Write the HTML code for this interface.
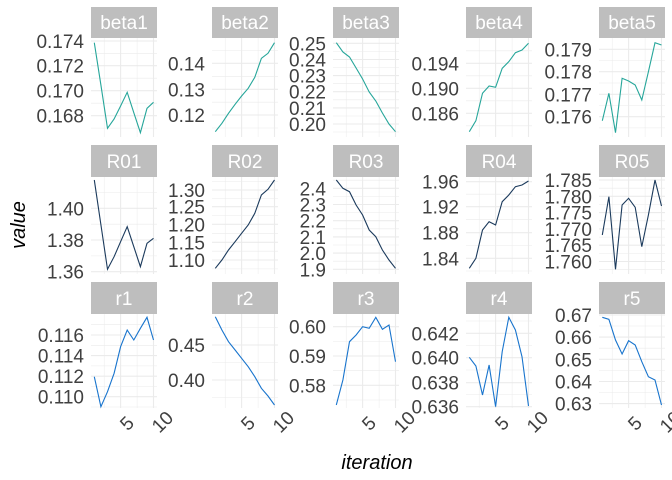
<!DOCTYPE html>
<html><head><meta charset="utf-8"><style>
html,body{margin:0;padding:0;background:#fff}
svg{display:block;font-family:"Liberation Sans",sans-serif}
.mj{stroke:#EBEBEB;stroke-width:1.1}
.mn{stroke:#EBEBEB;stroke-width:0.55}
.yl{font-size:19px;fill:#404040;text-anchor:end}
.st{font-size:19px;fill:#fff;text-anchor:middle}
.xl{font-size:19px;fill:#404040;text-anchor:middle}
polyline{fill:none;stroke-width:1.1}
.b{stroke:#26A69A}.R{stroke:#1B3A5C}.r{stroke:#1874CD}
</style></head><body>
<svg width="672" height="480" viewBox="0 0 672 480">
<defs>
<g id="v1"><line class="mn" x1="13.2" x2="13.2" y1="38" y2="137"/><line class="mj" x1="29.6" x2="29.6" y1="38" y2="137"/><line class="mn" x1="46.1" x2="46.1" y1="38" y2="137"/><line class="mj" x1="62.5" x2="62.5" y1="38" y2="137"/></g>
<g id="v2"><line class="mn" x1="13.2" x2="13.2" y1="177" y2="274"/><line class="mj" x1="29.6" x2="29.6" y1="177" y2="274"/><line class="mn" x1="46.1" x2="46.1" y1="177" y2="274"/><line class="mj" x1="62.5" x2="62.5" y1="177" y2="274"/></g>
<g id="v3"><line class="mn" x1="13.2" x2="13.2" y1="314" y2="408"/><line class="mj" x1="29.6" x2="29.6" y1="314" y2="408"/><line class="mn" x1="46.1" x2="46.1" y1="314" y2="408"/><line class="mj" x1="62.5" x2="62.5" y1="314" y2="408"/></g>
</defs>

<!-- ROW 1 -->
<g transform="translate(91,0)">
<rect x="0" y="7" width="66" height="31" fill="#BEBEBE"/><text class="st" x="33" y="29">beta1</text>
<use href="#v1"/>
<g class="mj"><line x1="0" x2="66" y1="41" y2="41"/><line x1="0" x2="66" y1="65.7" y2="65.7"/><line x1="0" x2="66" y1="90.7" y2="90.7"/><line x1="0" x2="66" y1="115.7" y2="115.7"/></g>
<g class="mn"><line x1="0" x2="66" y1="53.3" y2="53.3"/><line x1="0" x2="66" y1="78.2" y2="78.2"/><line x1="0" x2="66" y1="103.2" y2="103.2"/><line x1="0" x2="66" y1="128.1" y2="128.1"/></g>
<text class="yl" x="-7" y="48">0.174</text><text class="yl" x="-7" y="72.7">0.172</text><text class="yl" x="-7" y="97.7">0.170</text><text class="yl" x="-7" y="122.7">0.168</text>
<polyline class="b" points="3.3,42.7 9.9,85 16.5,128.3 23.1,119 29.6,106 36.2,92.3 42.8,112.7 49.4,132.7 56,108.3 62.5,102.3"/>
</g>
<g transform="translate(212,0)">
<rect x="0" y="7" width="66" height="31" fill="#BEBEBE"/><text class="st" x="33" y="29">beta2</text>
<use href="#v1"/>
<g class="mj"><line x1="0" x2="66" y1="63.3" y2="63.3"/><line x1="0" x2="66" y1="89.3" y2="89.3"/><line x1="0" x2="66" y1="115" y2="115"/></g>
<g class="mn"><line x1="0" x2="66" y1="50.4" y2="50.4"/><line x1="0" x2="66" y1="76.3" y2="76.3"/><line x1="0" x2="66" y1="102.2" y2="102.2"/><line x1="0" x2="66" y1="128" y2="128"/></g>
<text class="yl" x="-7" y="70.3">0.14</text><text class="yl" x="-7" y="96.3">0.13</text><text class="yl" x="-7" y="122">0.12</text>
<polyline class="b" points="3.3,131.7 9.9,123.3 16.5,113.3 23.1,104.3 29.6,96 36.2,88.3 42.8,77.3 49.4,58.3 56,53.3 62.5,42.7"/>
</g>
<g transform="translate(333,0)">
<rect x="0" y="7" width="66" height="31" fill="#BEBEBE"/><text class="st" x="33" y="29">beta3</text>
<use href="#v1"/>
<g class="mj"><line x1="0" x2="66" y1="43.3" y2="43.3"/><line x1="0" x2="66" y1="59.5" y2="59.5"/><line x1="0" x2="66" y1="75.6" y2="75.6"/><line x1="0" x2="66" y1="91.7" y2="91.7"/><line x1="0" x2="66" y1="107.9" y2="107.9"/><line x1="0" x2="66" y1="124" y2="124"/></g>
<g class="mn"><line x1="0" x2="66" y1="51.4" y2="51.4"/><line x1="0" x2="66" y1="67.5" y2="67.5"/><line x1="0" x2="66" y1="83.7" y2="83.7"/><line x1="0" x2="66" y1="99.8" y2="99.8"/><line x1="0" x2="66" y1="116" y2="116"/><line x1="0" x2="66" y1="132" y2="132"/></g>
<text class="yl" x="-7" y="50.3">0.25</text><text class="yl" x="-7" y="66.5">0.24</text><text class="yl" x="-7" y="82.6">0.23</text><text class="yl" x="-7" y="98.7">0.22</text><text class="yl" x="-7" y="114.9">0.21</text><text class="yl" x="-7" y="131">0.20</text>
<polyline class="b" points="3.3,42.7 9.9,52 16.5,57 23.1,68 29.6,79 36.2,92 42.8,101 49.4,113 56,124 62.5,131.7"/>
</g>
<g transform="translate(466,0)">
<rect x="0" y="7" width="66" height="31" fill="#BEBEBE"/><text class="st" x="33" y="29">beta4</text>
<use href="#v1"/>
<g class="mj"><line x1="0" x2="66" y1="63.3" y2="63.3"/><line x1="0" x2="66" y1="88.3" y2="88.3"/><line x1="0" x2="66" y1="113.3" y2="113.3"/></g>
<g class="mn"><line x1="0" x2="66" y1="50.8" y2="50.8"/><line x1="0" x2="66" y1="75.8" y2="75.8"/><line x1="0" x2="66" y1="100.8" y2="100.8"/><line x1="0" x2="66" y1="125.8" y2="125.8"/></g>
<text class="yl" x="-7" y="70.3">0.194</text><text class="yl" x="-7" y="95.3">0.190</text><text class="yl" x="-7" y="120.3">0.186</text>
<polyline class="b" points="3.3,131.7 9.9,120.7 16.5,93.3 23.1,86 29.6,87.3 36.2,68.3 42.8,61.7 49.4,52.7 56,50 62.5,43.3"/>
</g>
<g transform="translate(599,0)">
<rect x="0" y="7" width="66" height="31" fill="#BEBEBE"/><text class="st" x="33" y="29">beta5</text>
<use href="#v1"/>
<g class="mj"><line x1="0" x2="66" y1="49.3" y2="49.3"/><line x1="0" x2="66" y1="71.7" y2="71.7"/><line x1="0" x2="66" y1="94.3" y2="94.3"/><line x1="0" x2="66" y1="116.7" y2="116.7"/></g>
<g class="mn"><line x1="0" x2="66" y1="60.5" y2="60.5"/><line x1="0" x2="66" y1="83" y2="83"/><line x1="0" x2="66" y1="105.5" y2="105.5"/><line x1="0" x2="66" y1="127.9" y2="127.9"/></g>
<text class="yl" x="-7" y="56.3">0.179</text><text class="yl" x="-7" y="78.7">0.178</text><text class="yl" x="-7" y="101.3">0.177</text><text class="yl" x="-7" y="123.7">0.176</text>
<polyline class="b" points="3.3,120.7 9.9,93.3 16.5,132.7 23.1,78.3 29.6,81 36.2,85 42.8,100 49.4,71.7 56,42.7 62.5,45"/>
</g>

<!-- ROW 2 -->
<g transform="translate(91,0)">
<rect x="0" y="145" width="66" height="32" fill="#BEBEBE"/><text class="st" x="33" y="168">R01</text>
<use href="#v2"/>
<g class="mj"><line x1="0" x2="66" y1="208.3" y2="208.3"/><line x1="0" x2="66" y1="240" y2="240"/><line x1="0" x2="66" y1="271.7" y2="271.7"/></g>
<g class="mn"><line x1="0" x2="66" y1="192.5" y2="192.5"/><line x1="0" x2="66" y1="224.2" y2="224.2"/><line x1="0" x2="66" y1="255.9" y2="255.9"/></g>
<text class="yl" x="-7" y="215.3">1.40</text><text class="yl" x="-7" y="247">1.38</text><text class="yl" x="-7" y="278.7">1.36</text>
<polyline class="R" points="3.3,180 9.9,224.7 16.5,269.3 23.1,256.7 29.6,241.7 36.2,226.7 42.8,246.7 49.4,266.7 56,243.3 62.5,238.3"/>
</g>
<g transform="translate(212,0)">
<rect x="0" y="145" width="66" height="32" fill="#BEBEBE"/><text class="st" x="33" y="168">R02</text>
<use href="#v2"/>
<g class="mj"><line x1="0" x2="66" y1="190" y2="190"/><line x1="0" x2="66" y1="206.7" y2="206.7"/><line x1="0" x2="66" y1="224.3" y2="224.3"/><line x1="0" x2="66" y1="242.3" y2="242.3"/><line x1="0" x2="66" y1="260" y2="260"/></g>
<g class="mn"><line x1="0" x2="66" y1="181.6" y2="181.6"/><line x1="0" x2="66" y1="198.4" y2="198.4"/><line x1="0" x2="66" y1="215.5" y2="215.5"/><line x1="0" x2="66" y1="233.3" y2="233.3"/><line x1="0" x2="66" y1="251.2" y2="251.2"/><line x1="0" x2="66" y1="268.9" y2="268.9"/></g>
<text class="yl" x="-7" y="197">1.30</text><text class="yl" x="-7" y="213.7">1.25</text><text class="yl" x="-7" y="231.3">1.20</text><text class="yl" x="-7" y="249.3">1.15</text><text class="yl" x="-7" y="267">1.10</text>
<polyline class="R" points="3.3,268.3 9.9,260 16.5,250 23.1,241.7 29.6,233.3 36.2,225 42.8,213.3 49.4,195 56,189.3 62.5,180"/>
</g>
<g transform="translate(333,0)">
<rect x="0" y="145" width="66" height="32" fill="#BEBEBE"/><text class="st" x="33" y="168">R03</text>
<use href="#v2"/>
<g class="mj"><line x1="0" x2="66" y1="188.3" y2="188.3"/><line x1="0" x2="66" y1="204.5" y2="204.5"/><line x1="0" x2="66" y1="220.7" y2="220.7"/><line x1="0" x2="66" y1="236.9" y2="236.9"/><line x1="0" x2="66" y1="253.1" y2="253.1"/><line x1="0" x2="66" y1="269.3" y2="269.3"/></g>
<g class="mn"><line x1="0" x2="66" y1="180.2" y2="180.2"/><line x1="0" x2="66" y1="196.4" y2="196.4"/><line x1="0" x2="66" y1="212.6" y2="212.6"/><line x1="0" x2="66" y1="228.8" y2="228.8"/><line x1="0" x2="66" y1="245" y2="245"/><line x1="0" x2="66" y1="261.2" y2="261.2"/></g>
<text class="yl" x="-7" y="195.3">2.4</text><text class="yl" x="-7" y="211.5">2.3</text><text class="yl" x="-7" y="227.7">2.2</text><text class="yl" x="-7" y="243.9">2.1</text><text class="yl" x="-7" y="260.1">2.0</text><text class="yl" x="-7" y="276.3">1.9</text>
<polyline class="R" points="3.3,180 9.9,188.3 16.5,191.7 23.1,205 29.6,215 36.2,230 42.8,236.7 49.4,250 56,260 62.5,268.3"/>
</g>
<g transform="translate(466,0)">
<rect x="0" y="145" width="66" height="32" fill="#BEBEBE"/><text class="st" x="33" y="168">R04</text>
<use href="#v2"/>
<g class="mj"><line x1="0" x2="66" y1="181.7" y2="181.7"/><line x1="0" x2="66" y1="206.7" y2="206.7"/><line x1="0" x2="66" y1="232.7" y2="232.7"/><line x1="0" x2="66" y1="258.3" y2="258.3"/></g>
<g class="mn"><line x1="0" x2="66" y1="194.2" y2="194.2"/><line x1="0" x2="66" y1="219.7" y2="219.7"/><line x1="0" x2="66" y1="245.5" y2="245.5"/><line x1="0" x2="66" y1="271" y2="271"/></g>
<text class="yl" x="-7" y="188.7">1.96</text><text class="yl" x="-7" y="213.7">1.92</text><text class="yl" x="-7" y="239.7">1.88</text><text class="yl" x="-7" y="265.3">1.84</text>
<polyline class="R" points="3.3,268.3 9.9,258.3 16.5,230 23.1,221.7 29.6,225 36.2,201.7 42.8,195 49.4,186.7 56,185 62.5,181"/>
</g>
<g transform="translate(599,0)">
<rect x="0" y="145" width="66" height="32" fill="#BEBEBE"/><text class="st" x="33" y="168">R05</text>
<use href="#v2"/>
<g class="mj"><line x1="0" x2="66" y1="180" y2="180"/><line x1="0" x2="66" y1="196.3" y2="196.3"/><line x1="0" x2="66" y1="212.6" y2="212.6"/><line x1="0" x2="66" y1="228.9" y2="228.9"/><line x1="0" x2="66" y1="245.2" y2="245.2"/><line x1="0" x2="66" y1="261.5" y2="261.5"/></g>
<g class="mn"><line x1="0" x2="66" y1="188.2" y2="188.2"/><line x1="0" x2="66" y1="204.5" y2="204.5"/><line x1="0" x2="66" y1="220.8" y2="220.8"/><line x1="0" x2="66" y1="237.1" y2="237.1"/><line x1="0" x2="66" y1="253.4" y2="253.4"/><line x1="0" x2="66" y1="269.7" y2="269.7"/></g>
<text class="yl" x="-7" y="187">1.785</text><text class="yl" x="-7" y="203.3">1.780</text><text class="yl" x="-7" y="219.6">1.775</text><text class="yl" x="-7" y="235.9">1.770</text><text class="yl" x="-7" y="252.2">1.765</text><text class="yl" x="-7" y="268.5">1.760</text>
<polyline class="R" points="3.3,235 9.9,196.7 16.5,269.3 23.1,205 29.6,198.3 36.2,207.3 42.8,246.7 49.4,215 56,180 62.5,206"/>
</g>

<!-- ROW 3 -->
<g transform="translate(91,0)">
<rect x="0" y="282" width="66" height="32" fill="#BEBEBE"/><text class="st" x="33" y="305">r1</text>
<use href="#v3"/>
<g class="mj"><line x1="0" x2="66" y1="335" y2="335"/><line x1="0" x2="66" y1="355.6" y2="355.6"/><line x1="0" x2="66" y1="376.2" y2="376.2"/><line x1="0" x2="66" y1="396.7" y2="396.7"/></g>
<g class="mn"><line x1="0" x2="66" y1="324.7" y2="324.7"/><line x1="0" x2="66" y1="345.3" y2="345.3"/><line x1="0" x2="66" y1="365.9" y2="365.9"/><line x1="0" x2="66" y1="386.5" y2="386.5"/><line x1="0" x2="66" y1="407" y2="407"/></g>
<text class="yl" x="-7" y="342">0.116</text><text class="yl" x="-7" y="362.6">0.114</text><text class="yl" x="-7" y="383.2">0.112</text><text class="yl" x="-7" y="403.7">0.110</text>
<polyline class="r" points="3.3,376.7 9.9,406.7 16.5,391.7 23.1,373.3 29.6,346.7 36.2,330 42.8,340 49.4,328.3 56,317.3 62.5,340"/>
<text class="xl" transform="translate(35.5,423) rotate(-45)" dy="7">5</text>
<text class="xl" transform="translate(71,421.5) rotate(-45)" dy="7">10</text>
</g>
<g transform="translate(212,0)">
<rect x="0" y="282" width="66" height="32" fill="#BEBEBE"/><text class="st" x="33" y="305">r2</text>
<use href="#v3"/>
<g class="mj"><line x1="0" x2="66" y1="345" y2="345"/><line x1="0" x2="66" y1="380" y2="380"/></g>
<g class="mn"><line x1="0" x2="66" y1="327.5" y2="327.5"/><line x1="0" x2="66" y1="362.5" y2="362.5"/><line x1="0" x2="66" y1="397.5" y2="397.5"/></g>
<text class="yl" x="-7" y="352">0.45</text><text class="yl" x="-7" y="387">0.40</text>
<polyline class="r" points="3.3,316.7 9.9,330 16.5,341.7 23.1,350 29.6,358.3 36.2,366.7 42.8,376.7 49.4,388.3 56,396 62.5,405"/>
<text class="xl" transform="translate(35.5,423) rotate(-45)" dy="7">5</text>
<text class="xl" transform="translate(71,421.5) rotate(-45)" dy="7">10</text>
</g>
<g transform="translate(333,0)">
<rect x="0" y="282" width="66" height="32" fill="#BEBEBE"/><text class="st" x="33" y="305">r3</text>
<use href="#v3"/>
<g class="mj"><line x1="0" x2="66" y1="326.7" y2="326.7"/><line x1="0" x2="66" y1="356" y2="356"/><line x1="0" x2="66" y1="385.3" y2="385.3"/></g>
<g class="mn"><line x1="0" x2="66" y1="341.4" y2="341.4"/><line x1="0" x2="66" y1="370.7" y2="370.7"/><line x1="0" x2="66" y1="400" y2="400"/></g>
<text class="yl" x="-7" y="333.7">0.60</text><text class="yl" x="-7" y="363">0.59</text><text class="yl" x="-7" y="392.3">0.58</text>
<polyline class="r" points="3.3,405 9.9,380 16.5,341.7 23.1,335 29.6,326.7 36.2,328.3 42.8,317.3 49.4,329.3 56,325 62.5,361.7"/>
<text class="xl" transform="translate(35.5,423) rotate(-45)" dy="7">5</text>
<text class="xl" transform="translate(71,421.5) rotate(-45)" dy="7">10</text>
</g>
<g transform="translate(466,0)">
<rect x="0" y="282" width="66" height="32" fill="#BEBEBE"/><text class="st" x="33" y="305">r4</text>
<use href="#v3"/>
<g class="mj"><line x1="0" x2="66" y1="333.3" y2="333.3"/><line x1="0" x2="66" y1="357.7" y2="357.7"/><line x1="0" x2="66" y1="382.7" y2="382.7"/><line x1="0" x2="66" y1="406.7" y2="406.7"/></g>
<g class="mn"><line x1="0" x2="66" y1="321" y2="321"/><line x1="0" x2="66" y1="345.5" y2="345.5"/><line x1="0" x2="66" y1="370" y2="370"/><line x1="0" x2="66" y1="394.5" y2="394.5"/></g>
<text class="yl" x="-7" y="340.3">0.642</text><text class="yl" x="-7" y="364.7">0.640</text><text class="yl" x="-7" y="389.7">0.638</text><text class="yl" x="-7" y="413.7">0.636</text>
<polyline class="r" points="3.3,357.3 9.9,366 16.5,395 23.1,365 29.6,406.7 36.2,351.7 42.8,317.3 49.4,330 56,356.7 62.5,406"/>
<text class="xl" transform="translate(35.5,423) rotate(-45)" dy="7">5</text>
<text class="xl" transform="translate(71,421.5) rotate(-45)" dy="7">10</text>
</g>
<g transform="translate(599,0)">
<rect x="0" y="282" width="66" height="32" fill="#BEBEBE"/><text class="st" x="33" y="305">r5</text>
<use href="#v3"/>
<g class="mj"><line x1="0" x2="66" y1="315" y2="315"/><line x1="0" x2="66" y1="337.1" y2="337.1"/><line x1="0" x2="66" y1="359.3" y2="359.3"/><line x1="0" x2="66" y1="381.5" y2="381.5"/><line x1="0" x2="66" y1="403.6" y2="403.6"/></g>
<g class="mn"><line x1="0" x2="66" y1="326" y2="326"/><line x1="0" x2="66" y1="348.2" y2="348.2"/><line x1="0" x2="66" y1="370.4" y2="370.4"/><line x1="0" x2="66" y1="392.6" y2="392.6"/></g>
<text class="yl" x="-7" y="322">0.67</text><text class="yl" x="-7" y="344.1">0.66</text><text class="yl" x="-7" y="366.3">0.65</text><text class="yl" x="-7" y="388.5">0.64</text><text class="yl" x="-7" y="410.6">0.63</text>
<polyline class="r" points="3.3,317.3 9.9,319.3 16.5,340 23.1,354 29.6,340.7 36.2,345 42.8,361.7 49.4,376.7 56,380 62.5,405"/>
<text class="xl" transform="translate(35.5,423) rotate(-45)" dy="7">5</text>
<text class="xl" transform="translate(71,421.5) rotate(-45)" dy="7">10</text>
</g>

<text x="377" y="469" font-size="20" font-style="italic" fill="#000" text-anchor="middle">iteration</text>
<text transform="translate(25,225) rotate(-90)" font-size="20" font-style="italic" fill="#000" text-anchor="middle">value</text>
</svg>
</body></html>
